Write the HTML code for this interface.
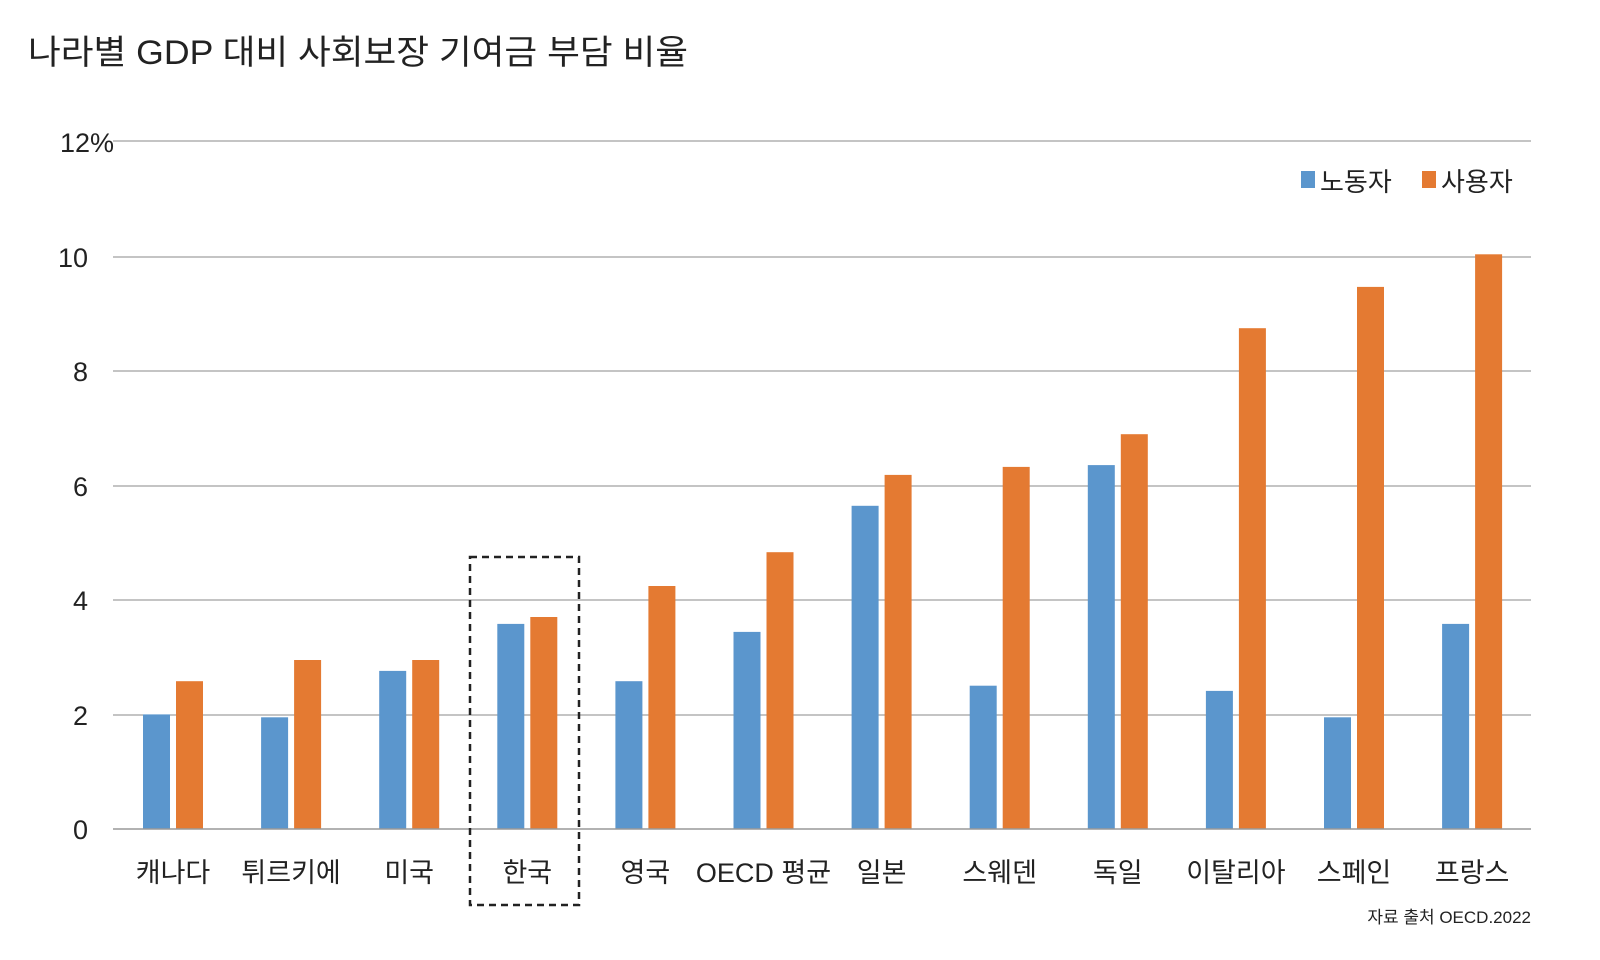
<!DOCTYPE html>
<html><head><meta charset="utf-8"><style>
body{margin:0;background:#fff}
svg text{font-family:"Liberation Sans","Noto Sans CJK KR",sans-serif;fill:#222}
</style></head><body>
<svg width="1600" height="955" viewBox="0 0 1600 955">
<text x="28" y="64" font-size="34" textLength="660" lengthAdjust="spacingAndGlyphs">나라별 GDP 대비 사회보장 기여금 부담 비율</text>
<g stroke="#888" stroke-width="1">
<line x1="113" y1="141" x2="1531" y2="141"/>
<line x1="113" y1="257" x2="1531" y2="257"/>
<line x1="113" y1="371" x2="1531" y2="371"/>
<line x1="113" y1="486" x2="1531" y2="486"/>
<line x1="113" y1="600" x2="1531" y2="600"/>
<line x1="113" y1="715" x2="1531" y2="715"/>
</g>
<g font-size="27" text-anchor="end">
<text x="114" y="152">12%</text>
<text x="88" y="267">10</text>
<text x="88" y="381">8</text>
<text x="88" y="496">6</text>
<text x="88" y="610">4</text>
<text x="88" y="725">2</text>
<text x="88" y="839">0</text>
</g>
<rect x="1301" y="171" width="14" height="17" fill="#5b96cd"/>
<text x="1320" y="191" font-size="26">노동자</text>
<rect x="1422" y="171" width="14" height="17" fill="#e47a32"/>
<text x="1441" y="191" font-size="26">사용자</text>
<g fill="#5b96cd">
<rect x="143" y="714.4" width="27" height="114.6"/>
<rect x="261.1" y="717.3" width="27" height="111.7"/>
<rect x="379.2" y="670.9" width="27" height="158.1"/>
<rect x="497.3" y="623.9" width="27" height="205.1"/>
<rect x="615.4" y="681.2" width="27" height="147.8"/>
<rect x="733.5" y="631.9" width="27" height="197.1"/>
<rect x="851.6" y="505.8" width="27" height="323.2"/>
<rect x="969.7" y="685.7" width="27" height="143.3"/>
<rect x="1087.8" y="465.1" width="27" height="363.9"/>
<rect x="1205.9" y="690.9" width="27" height="138.1"/>
<rect x="1324" y="717.3" width="27" height="111.7"/>
<rect x="1442.1" y="623.9" width="27" height="205.1"/>
</g>
<g fill="#e47a32">
<rect x="176" y="681.2" width="27" height="147.8"/>
<rect x="294.1" y="660" width="27" height="169"/>
<rect x="412.2" y="660" width="27" height="169"/>
<rect x="530.3" y="617" width="27" height="212"/>
<rect x="648.4" y="586" width="27" height="243"/>
<rect x="766.5" y="552.2" width="27" height="276.8"/>
<rect x="884.6" y="474.9" width="27" height="354.1"/>
<rect x="1002.7" y="466.9" width="27" height="362.1"/>
<rect x="1120.8" y="434.2" width="27" height="394.8"/>
<rect x="1238.9" y="328.2" width="27" height="500.8"/>
<rect x="1357" y="286.9" width="27" height="542.1"/>
<rect x="1475.1" y="254.3" width="27" height="574.7"/>
</g>
<line x1="113" y1="829" x2="1531" y2="829" stroke="#999" stroke-width="1.5"/>
<g font-size="27" text-anchor="middle">
<text x="173" y="882">캐나다</text>
<text x="291.1" y="882">튀르키에</text>
<text x="409.2" y="882">미국</text>
<text x="527.3" y="882">한국</text>
<text x="645.4" y="882">영국</text>
<text x="763.5" y="882">OECD 평균</text>
<text x="881.6" y="882">일본</text>
<text x="999.7" y="882">스웨덴</text>
<text x="1117.8" y="882">독일</text>
<text x="1235.9" y="882">이탈리아</text>
<text x="1354" y="882">스페인</text>
<text x="1472.1" y="882">프랑스</text>
</g>
<rect x="470" y="557" width="109" height="348" fill="none" stroke="#222" stroke-width="2.5" stroke-dasharray="7,5"/>
<text x="1531" y="923" font-size="17" text-anchor="end" fill="#444">자료 출처 OECD.2022</text>
</svg>
</body></html>
